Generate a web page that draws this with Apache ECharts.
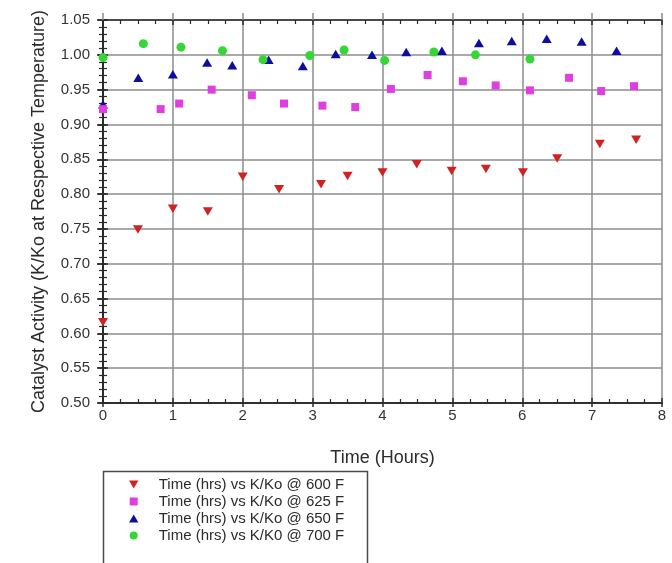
<!DOCTYPE html>
<html>
<head>
<meta charset="utf-8">
<script src="https://cdn.jsdelivr.net/npm/echarts@6/dist/echarts.min.js"></script>
<style>
  html, body { margin: 0; padding: 0; background: #fff; }
  #chart { width: 672px; height: 563px; }
</style>
</head>
<body>
<div id="chart"></div>
<script>
// Catalyst activity (K/Ko) over time at four reactor temperatures
const hours600 = [0, 0.5, 1.0, 1.5, 2.0, 2.52, 3.12, 3.5, 4.0, 4.49, 4.99, 5.48, 6.01, 6.5, 7.11, 7.63];
const activity600 = [0.616, 0.749, 0.779, 0.775, 0.825, 0.807, 0.814, 0.826, 0.831, 0.843, 0.833, 0.836, 0.831, 0.851, 0.872, 0.878];

const hours625 = [0, 0.825, 1.09, 1.555, 2.13, 2.59, 3.14, 3.61, 4.12, 4.645, 5.15, 5.62, 6.11, 6.67, 7.13, 7.6];
const activity625 = [0.922, 0.922, 0.930, 0.950, 0.942, 0.930, 0.927, 0.925, 0.951, 0.971, 0.962, 0.956, 0.949, 0.967, 0.948, 0.955];

const hours650 = [0, 0.505, 1.0, 1.49, 1.85, 2.37, 2.86, 3.33, 3.85, 4.34, 4.85, 5.38, 5.85, 6.35, 6.85, 7.35];
const activity650 = [0.929, 0.967, 0.972, 0.989, 0.985, 0.993, 0.984, 1.001, 1.000, 1.004, 1.006, 1.017, 1.020, 1.023, 1.019, 1.006];

const hours700 = [0, 0.577, 1.116, 1.71, 2.29, 2.96, 3.45, 4.03, 4.735, 5.33, 6.11];
const activity700 = [0.996, 1.016, 1.011, 1.006, 0.993, 0.999, 1.007, 0.992, 1.004, 1.000, 0.994];

const seriesNames = [
  'Time (hrs) vs K/Ko @ 600 F',
  'Time (hrs) vs K/Ko @ 625 F',
  'Time (hrs) vs K/Ko @ 650 F',
  'Time (hrs) vs K/K0 @ 700 F'
];

const xTicks = [0, 8, 1];          // min, max, interval
const yTicks = [0.5, 1.05, 0.05];  // min, max, interval

const pair = (xs, ys) => xs.map((x, i) => [x, ys[i]]);

const axisColor = '#2a2a2a';
const gridColor = '#8c8c8c';
const labelFont = 'Liberation Sans, Arial, sans-serif';

const downTri = 'path://M0,0L10,0L5,8.5Z';
const upTri = 'path://M5,0L10,8.5L0,8.5Z';
const square = 'path://M0,0L8,0L8,8L0,8Z';

// Frame axes: major ticks drawn outward on one copy, minor ticks inward on another
const xRange = { type: 'value', min: xTicks[0], max: xTicks[1], interval: xTicks[2] };
const yRange = { type: 'value', min: yTicks[0], max: yTicks[1], interval: yTicks[2] };
const noLabel = { show: false };
const noSplit = { show: false };
const innerTicks = {
  axisLine: { show: true, lineStyle: { color: axisColor, width: 1.5 } },
  axisTick: { show: true, inside: true, length: 5, lineStyle: { color: axisColor, width: 1.5 } },
  axisLabel: noLabel,
  splitLine: noSplit
};

const chart = echarts.init(document.getElementById('chart'), null, { renderer: 'canvas' });

chart.setOption({
  backgroundColor: '#ffffff',
  animation: false,
  textStyle: { fontFamily: labelFont },
  grid: { left: 103, right: 10, top: 20, bottom: 160, containLabel: false },
  graphic: [{
    type: 'rect',
    shape: { x: 103.5, y: 471.5, width: 264, height: 120 },
    style: { fill: '#fff', stroke: '#4a4a4a', lineWidth: 1.5 },
    z: 0
  }],
  legend: {
    orient: 'vertical',
    left: 129,
    top: 477,
    padding: 0,
    itemWidth: 40,
    itemHeight: 8,
    itemGap: 2,
    textStyle: { fontSize: 15, lineHeight: 15, color: '#2b2b2b', fontFamily: labelFont },
    data: [
      { name: seriesNames[0], icon: downTri },
      { name: seriesNames[1], icon: square },
      { name: seriesNames[2], icon: upTri },
      { name: seriesNames[3], icon: 'circle' }
    ],
    z: 5
  },
  xAxis: [Object.assign({}, xRange, {
    position: 'bottom',
    name: 'Time (Hours)',
    nameLocation: 'middle',
    nameGap: 46,
    nameTextStyle: { fontSize: 18, color: '#2b2b2b', fontFamily: labelFont },
    axisLine: { show: true, lineStyle: { color: axisColor, width: 1.5 } },
    axisTick: { show: true, inside: false, length: 4, lineStyle: { color: axisColor, width: 1.5 } },
    axisLabel: { fontSize: 15, color: '#333', margin: 5, fontFamily: labelFont },
    splitLine: { show: true, lineStyle: { color: gridColor, width: 1.5 } }
  }), Object.assign({}, xRange, innerTicks, {
    position: 'bottom',
    minorTick: { show: true, splitNumber: 4, length: 4, lineStyle: { color: axisColor, width: 1.2 } }
  }), Object.assign({}, xRange, innerTicks, {
    position: 'top',
    minorTick: { show: true, splitNumber: 4, length: 4, lineStyle: { color: axisColor, width: 1.2 } }
  }), Object.assign({}, xRange, {
    position: 'top',
    axisLine: { show: false },
    axisTick: { show: true, inside: false, length: 7, lineStyle: { color: gridColor, width: 1.5 } },
    axisLabel: noLabel,
    splitLine: noSplit
  })],
  yAxis: [Object.assign({}, yRange, {
    position: 'left',
    name: 'Catalyst Activity (K/Ko at Respective Temperature)',
    nameLocation: 'middle',
    nameGap: 55,
    nameTextStyle: { fontSize: 18, color: '#2b2b2b', fontFamily: labelFont },
    axisLine: { show: true, lineStyle: { color: axisColor, width: 1.5 } },
    axisTick: { show: true, inside: false, length: 6, lineStyle: { color: axisColor, width: 1.5 } },
    axisLabel: { fontSize: 15, color: '#333', margin: 13, fontFamily: labelFont,
      formatter: v => v.toFixed(2) },
    splitLine: { show: true, lineStyle: { color: gridColor, width: 1.5 } }
  }), Object.assign({}, yRange, innerTicks, {
    position: 'left',
    minorTick: { show: true, splitNumber: 5, length: 4, lineStyle: { color: axisColor, width: 1.2 } }
  }), Object.assign({}, yRange, innerTicks, {
    position: 'right',
    minorTick: { show: true, splitNumber: 5, length: 4, lineStyle: { color: axisColor, width: 1.2 } }
  }), Object.assign({}, yRange, {
    position: 'right',
    axisLine: { show: false },
    axisTick: { show: true, inside: false, length: 3, lineStyle: { color: axisColor, width: 1.5 } },
    axisLabel: noLabel,
    splitLine: noSplit
  })],
  series: [{
    name: seriesNames[0],
    type: 'scatter',
    symbol: downTri,
    symbolSize: [10, 8.5],
    itemStyle: { color: '#d02222', opacity: 1 },
    data: pair(hours600, activity600),
    z: 3
  }, {
    name: seriesNames[1],
    type: 'scatter',
    symbol: square,
    symbolSize: 8,
    itemStyle: { color: '#e03ee0', opacity: 1 },
    data: pair(hours625, activity625),
    z: 4
  }, {
    name: seriesNames[2],
    type: 'scatter',
    symbol: upTri,
    symbolSize: [10, 8.5],
    itemStyle: { color: '#0e0e9e', opacity: 1 },
    data: pair(hours650, activity650),
    z: 3
  }, {
    name: seriesNames[3],
    type: 'scatter',
    symbol: 'circle',
    symbolSize: 9,
    itemStyle: { color: '#36d636', opacity: 1 },
    data: pair(hours700, activity700),
    z: 3
  }]
});
</script>
</body>
</html>
